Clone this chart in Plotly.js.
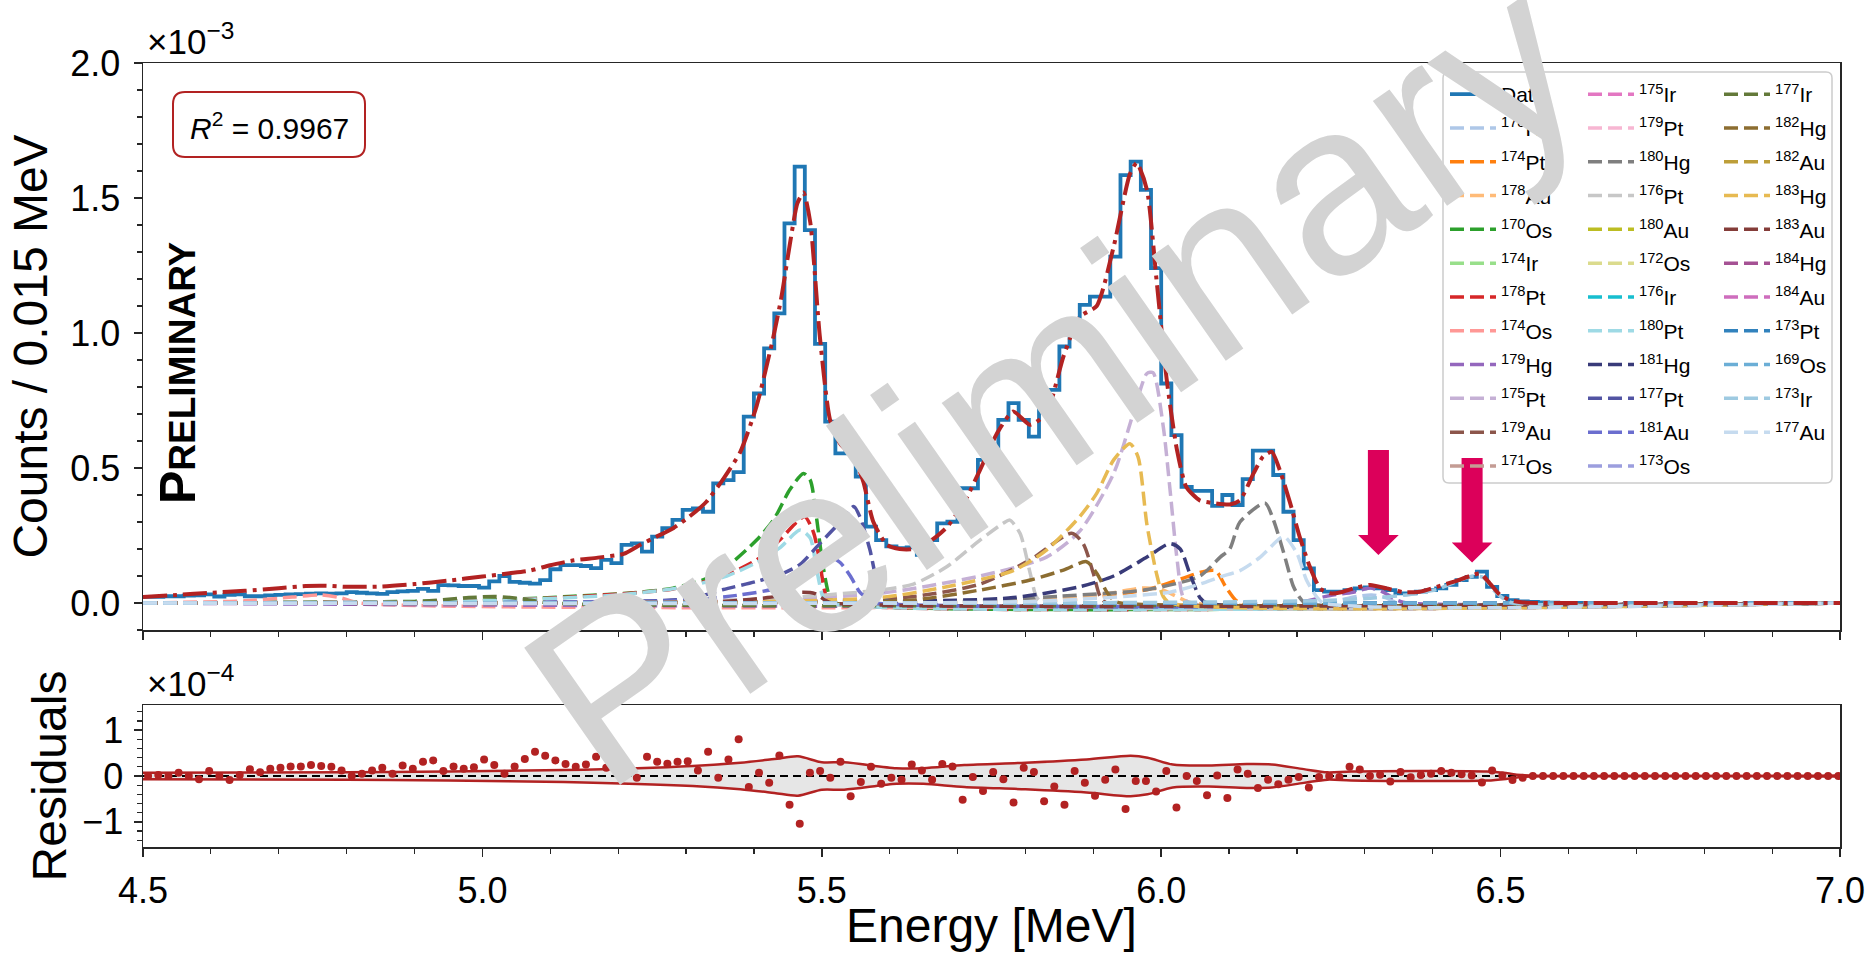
<!DOCTYPE html>
<html>
<head>
<meta charset="utf-8">
<script src="https://cdn.plot.ly/plotly-3.0.1.min.js"></script>
<style>
  html, body { margin: 0; padding: 0; background: #ffffff; }
  #chart { width: 1872px; height: 961px; }
</style>
</head>
<body>
<div id="chart"></div>
<script>
// ---------------- Measured spectrum (units of 1e-3 counts per bin) ----------------
const binStart = 4.5;
const binWidth = 0.015;
const counts = [
  0.023, 0.023, 0.025, 0.025, 0.027, 0.028, 0.032, 0.024, 0.030, 0.032,
  0.025, 0.025, 0.028, 0.030, 0.032, 0.033, 0.035, 0.036, 0.035, 0.036,
  0.040, 0.038, 0.036, 0.034, 0.040, 0.043, 0.045, 0.052, 0.045, 0.066,
  0.065, 0.063, 0.063, 0.057, 0.080, 0.100, 0.078, 0.075, 0.072, 0.085,
  0.125, 0.140, 0.140, 0.137, 0.129, 0.160, 0.148, 0.215, 0.221, 0.190,
  0.246, 0.277, 0.308, 0.345, 0.350, 0.338, 0.443, 0.455, 0.485, 0.690,
  0.776, 0.943, 1.073, 1.406, 1.616, 1.381, 0.960, 0.672, 0.554, 0.590,
  0.468, 0.283, 0.233, 0.210, 0.203, 0.206, 0.178, 0.233, 0.295, 0.301,
  0.425, 0.425, 0.530, 0.567, 0.678, 0.740, 0.678, 0.616, 0.721, 0.789,
  0.950, 1.017, 1.104, 1.135, 1.135, 1.283, 1.585, 1.635, 1.530, 1.240,
  0.813, 0.622, 0.430, 0.415, 0.415, 0.360, 0.400, 0.363, 0.459, 0.564,
  0.564, 0.474, 0.338, 0.233, 0.128, 0.048, 0.042, 0.042, 0.048, 0.054,
  0.058, 0.054, 0.048, 0.036, 0.036, 0.042, 0.048, 0.054, 0.067, 0.085,
  0.097, 0.116, 0.060, 0.026, 0.011, 0.006, 0.004, 0.002, 0.001, 0.000,
  0.000, 0.000
];

// ---------------- Total fit (units of 1e-3) ----------------
const fitE = [
  4.500, 4.550, 4.600, 4.650, 4.700, 4.740, 4.770, 4.800, 4.850, 4.900,
  4.950, 5.000, 5.040, 5.070, 5.100, 5.135, 5.170, 5.208, 5.232, 5.256,
  5.281, 5.305, 5.330, 5.355, 5.380, 5.404, 5.429, 5.441, 5.453, 5.464,
  5.473, 5.483, 5.497, 5.512, 5.527, 5.547, 5.561, 5.576, 5.596, 5.615,
  5.635, 5.660, 5.684, 5.709, 5.733, 5.758, 5.782, 5.807, 5.831, 5.856,
  5.880, 5.905, 5.930, 5.954, 5.964, 5.979, 5.993, 6.008, 6.023, 6.037,
  6.057, 6.077, 6.101, 6.116, 6.136, 6.150, 6.163, 6.175, 6.190, 6.204,
  6.219, 6.234, 6.249, 6.265, 6.283, 6.308, 6.332, 6.357, 6.381, 6.406,
  6.430, 6.455, 6.470, 6.484, 6.499, 6.514, 6.530, 6.560, 6.600, 7.000
];
const fitV = [
  0.022, 0.030, 0.038, 0.045, 0.055, 0.063, 0.064, 0.060, 0.061, 0.070,
  0.083, 0.098, 0.110, 0.120, 0.140, 0.158, 0.168, 0.182, 0.215, 0.245,
  0.277, 0.320, 0.375, 0.460, 0.560, 0.730, 0.990, 1.140, 1.330, 1.480,
  1.520, 1.410, 0.990, 0.680, 0.590, 0.540, 0.450, 0.300, 0.215, 0.200,
  0.200, 0.230, 0.280, 0.369, 0.492, 0.628, 0.709, 0.660, 0.703, 0.913,
  1.060, 1.100, 1.320, 1.590, 1.630, 1.530, 1.200, 0.830, 0.570, 0.430,
  0.380, 0.370, 0.365, 0.380, 0.480, 0.542, 0.560, 0.490, 0.370, 0.245,
  0.134, 0.054, 0.036, 0.040, 0.054, 0.067, 0.054, 0.040, 0.042, 0.060,
  0.078, 0.100, 0.109, 0.073, 0.030, 0.011, 0.003, 0.000, 0.000, 0.000
];

// ---------------- Fit components (units of 1e-3) ----------------
const flatE = [4.5, 7.0];
const flatV = [0, 0];

const os170E = [4.5, 4.9, 5.0, 5.085, 5.134, 5.208, 5.281, 5.33, 5.36, 5.404, 5.429, 5.453, 5.473, 5.483, 5.492, 5.502, 5.512, 5.52, 7.0];
const os170V = [0, 0.006, 0.01, 0.018, 0.025, 0.035, 0.055, 0.09, 0.134, 0.233, 0.308, 0.42, 0.48, 0.455, 0.32, 0.134, 0.02, 0, 0];

const pt178E = [4.5, 5.0, 5.15, 5.281, 5.355, 5.404, 5.438, 5.463, 5.475, 5.488, 5.495, 5.507, 5.515, 7.0];
const pt178V = [0, 0.008, 0.025, 0.052, 0.1, 0.16, 0.233, 0.3, 0.32, 0.26, 0.18, 0.02, 0, 0];

const pt180E = [4.5, 5.0, 5.2, 5.3, 5.36, 5.404, 5.438, 5.468, 5.483, 5.492, 5.502, 5.51, 7.0];
const pt180V = [0, 0.008, 0.03, 0.06, 0.1, 0.15, 0.204, 0.27, 0.24, 0.13, 0.02, 0, 0];

const pt177E = [4.5, 5.2, 5.306, 5.355, 5.404, 5.443, 5.468, 5.497, 5.527, 5.547, 5.556, 5.571, 5.581, 5.596, 5.605, 7.0];
const pt177V = [0, 0.005, 0.017, 0.05, 0.08, 0.11, 0.143, 0.22, 0.3, 0.357, 0.32, 0.196, 0.085, 0.011, 0, 0];

const au181E = [4.5, 5.3, 5.38, 5.429, 5.478, 5.497, 5.512, 5.527, 5.542, 5.556, 5.571, 5.58, 7.0];
const au181V = [0, 0.01, 0.03, 0.052, 0.1, 0.15, 0.17, 0.15, 0.1, 0.04, 0.01, 0, 0];

const au183E = [4.5, 5.35, 5.42, 5.47, 5.49, 5.505, 5.515, 7.0];
const au183V = [0, 0.005, 0.02, 0.04, 0.035, 0.01, 0, 0];

const pt176E = [4.5, 5.3, 5.45, 5.586, 5.635, 5.684, 5.733, 5.767, 5.777, 5.792, 5.807, 5.816, 5.826, 7.0];
const pt176V = [0, 0.005, 0.02, 0.048, 0.07, 0.134, 0.233, 0.295, 0.307, 0.258, 0.11, 0.024, 0, 0];

const au179E = [4.5, 5.5, 5.635, 5.733, 5.807, 5.868, 5.885, 5.9, 5.91, 5.92, 7.0];
const au179V = [0, 0.008, 0.024, 0.07, 0.16, 0.258, 0.22, 0.11, 0.024, 0, 0];

const hg182E = [4.5, 5.5, 5.635, 5.733, 5.807, 5.856, 5.89, 5.905, 5.92, 5.93, 5.94, 7.0];
const hg182V = [0, 0.004, 0.011, 0.048, 0.085, 0.122, 0.153, 0.11, 0.04, 0.01, 0, 0];

const hg183E = [4.5, 5.4, 5.586, 5.684, 5.782, 5.831, 5.88, 5.905, 5.93, 5.954, 5.966, 5.979, 5.993, 6.003, 6.013, 7.0];
const hg183V = [0, 0.005, 0.02, 0.06, 0.12, 0.196, 0.32, 0.406, 0.53, 0.59, 0.54, 0.29, 0.11, 0.024, 0, 0];

const pt175E = [4.5, 5.4, 5.586, 5.733, 5.831, 5.88, 5.93, 5.959, 5.979, 5.988, 6.003, 6.013, 6.023, 6.032, 6.042, 7.0];
const pt175V = [0, 0.012, 0.036, 0.1, 0.17, 0.266, 0.48, 0.703, 0.85, 0.853, 0.654, 0.42, 0.17, 0.024, 0, 0];

const hg181E = [4.5, 5.6, 5.782, 5.88, 5.93, 5.979, 6.013, 6.028, 6.042, 6.057, 6.067, 7.0];
const hg181V = [0, 0.005, 0.02, 0.06, 0.1, 0.17, 0.22, 0.2, 0.11, 0.02, 0, 0];

const au178E = [4.5, 5.8, 5.9, 5.97, 6.0, 6.03, 6.045, 7.0];
const au178V = [0, 0.01, 0.025, 0.055, 0.05, 0.015, 0, 0];

const pt174E = [4.5, 5.8, 5.9, 5.98, 6.03, 6.06, 6.08, 6.095, 6.11, 6.12, 7.0];
const pt174V = [0, 0.005, 0.02, 0.05, 0.09, 0.115, 0.12, 0.06, 0.01, 0, 0];

const hg180E = [4.5, 5.7, 5.85, 5.98, 6.057, 6.087, 6.101, 6.116, 6.153, 6.165, 6.18, 6.195, 6.205, 6.212, 7.0];
const hg180V = [0, 0.005, 0.025, 0.05, 0.1, 0.17, 0.2, 0.3, 0.37, 0.31, 0.19, 0.06, 0.017, 0, 0];

const au177E = [4.5, 5.8, 5.95, 6.013, 6.057, 6.087, 6.116, 6.146, 6.175, 6.182, 6.2, 6.214, 6.229, 6.239, 7.0];
const au177V = [0, 0.005, 0.025, 0.04, 0.07, 0.097, 0.12, 0.17, 0.24, 0.245, 0.184, 0.085, 0.023, 0, 0];

const hg179E = [4.5, 6.2, 6.249, 6.283, 6.308, 6.327, 6.347, 6.362, 7.0];
const hg179V = [0, 0.003, 0.028, 0.04, 0.056, 0.04, 0.011, 0, 0];

const ir173E = [4.5, 6.25, 6.362, 6.406, 6.43, 6.46, 6.475, 6.489, 6.504, 6.519, 7.0];
const ir173V = [0, 0.01, 0.03, 0.05, 0.074, 0.1, 0.094, 0.05, 0.017, 0, 0];

const hg178E = [4.5, 6.22, 6.26, 6.29, 6.31, 6.33, 6.35, 7.0];
const hg178V = [0, 0, 0.01, 0.025, 0.03, 0.02, 0, 0];

const os174E = [4.5, 4.65, 4.72, 4.76, 4.79, 4.82, 7.0];
const os174V = [0, 0.008, 0.022, 0.03, 0.02, 0, 0];

const ir177E = [4.5, 4.9, 4.98, 5.02, 5.06, 5.1, 7.0];
const ir177V = [0, 0.005, 0.02, 0.024, 0.015, 0, 0];

// Legend labels, colours and legend column, in legend order
const isoLabels = [
  '<sup>178</sup>Hg', '<sup>174</sup>Pt', '<sup>178</sup>Au', '<sup>170</sup>Os', '<sup>174</sup>Ir', '<sup>178</sup>Pt',
  '<sup>174</sup>Os', '<sup>179</sup>Hg', '<sup>175</sup>Pt', '<sup>179</sup>Au', '<sup>171</sup>Os',
  '<sup>175</sup>Ir', '<sup>179</sup>Pt', '<sup>180</sup>Hg', '<sup>176</sup>Pt', '<sup>180</sup>Au', '<sup>172</sup>Os',
  '<sup>176</sup>Ir', '<sup>180</sup>Pt', '<sup>181</sup>Hg', '<sup>177</sup>Pt', '<sup>181</sup>Au', '<sup>173</sup>Os',
  '<sup>177</sup>Ir', '<sup>182</sup>Hg', '<sup>182</sup>Au', '<sup>183</sup>Hg', '<sup>183</sup>Au', '<sup>184</sup>Hg',
  '<sup>184</sup>Au', '<sup>173</sup>Pt', '<sup>169</sup>Os', '<sup>173</sup>Ir', '<sup>177</sup>Au'
];
const isoColors = [
  '#aec7e8', '#ff7f0e', '#ffbb78', '#2ca02c', '#98df8a', '#d62728',
  '#ff9896', '#9467bd', '#c5b0d5', '#8c564b', '#c49c94',
  '#e377c2', '#f7b6d2', '#7f7f7f', '#c7c7c7', '#bcbd22', '#dbdb8d',
  '#17becf', '#9edae5', '#393b79', '#5254a3', '#6b6ecf', '#9c9ede',
  '#637939', '#8c6d31', '#bd9e39', '#e7ba52', '#843c39', '#a55194',
  '#ce6dbd', '#3182bd', '#6baed6', '#9ecae1', '#c6dbef'
];
const isoLegend = [
  'legend', 'legend', 'legend', 'legend', 'legend', 'legend', 'legend', 'legend', 'legend', 'legend', 'legend',
  'legend2', 'legend2', 'legend2', 'legend2', 'legend2', 'legend2', 'legend2', 'legend2', 'legend2', 'legend2', 'legend2', 'legend2',
  'legend3', 'legend3', 'legend3', 'legend3', 'legend3', 'legend3', 'legend3', 'legend3', 'legend3', 'legend3', 'legend3'
];
const isoCurves = [
  [hg178E, hg178V], [pt174E, pt174V], [au178E, au178V], [os170E, os170V], [flatE, flatV], [pt178E, pt178V],
  [os174E, os174V], [hg179E, hg179V], [pt175E, pt175V], [au179E, au179V], [flatE, flatV],
  [flatE, flatV], [flatE, flatV], [hg180E, hg180V], [pt176E, pt176V], [flatE, flatV], [flatE, flatV],
  [flatE, flatV], [pt180E, pt180V], [hg181E, hg181V], [pt177E, pt177V], [au181E, au181V], [flatE, flatV],
  [ir177E, ir177V], [hg182E, hg182V], [flatE, flatV], [hg183E, hg183V], [au183E, au183V], [flatE, flatV],
  [flatE, flatV], [flatE, flatV], [flatE, flatV], [ir173E, ir173V], [au177E, au177V]
];

// ---------------- Residuals (fit - data, units of 1e-4), one per bin ----------------
const resid = [
  0.00, 0.02, 0.00, 0.07, 0.00, -0.07, 0.11, 0.00, -0.09, 0.02,
  0.15, 0.08, 0.16, 0.18, 0.21, 0.21, 0.24, 0.22, 0.20, 0.12,
  0.00, 0.05, 0.12, 0.18, 0.05, 0.23, 0.16, 0.31, 0.34, 0.11,
  0.21, 0.16, 0.19, 0.36, 0.24, 0.05, 0.21, 0.37, 0.53, 0.44,
  0.34, 0.26, 0.20, 0.25, 0.42, 0.18, 0.37, 0.26, -0.04, 0.42,
  0.31, 0.27, 0.31, 0.32, 0.12, 0.53, -0.04, 0.36, 0.80, -0.24,
  0.07, -0.15, 0.45, -0.63, -1.04, 0.07, 0.11, -0.04, 0.31, -0.44,
  -0.13, 0.20, -0.17, -0.04, -0.08, 0.25, 0.12, -0.08, 0.26, 0.21,
  -0.52, -0.02, -0.33, 0.09, -0.07, -0.58, 0.18, 0.09, -0.55, -0.23,
  -0.63, 0.11, -0.15, -0.43, -0.08, 0.14, -0.72, -0.11, -0.11, -0.34,
  0.11, -0.69, 0.00, -0.11, -0.42, 0.01, -0.48, 0.14, 0.05, -0.26,
  -0.08, -0.18, -0.08, -0.02, -0.25, -0.02, 0.00, -0.02, 0.20, 0.14,
  0.00, 0.03, -0.12, 0.09, -0.03, 0.02, 0.05, 0.11, 0.07, 0.04,
  0.01, -0.14, 0.12, 0.01, -0.09, -0.04, 0.00, 0.00, 0.00, 0.00,
  0.00, 0.00, 0.00, 0.00, 0.00, 0.00, 0.00, 0.00, 0.00, 0.00,
  0.00, 0.00, 0.00, 0.00, 0.00, 0.00, 0.00, 0.00, 0.00, 0.00,
  0.00, 0.00, 0.00, 0.00, 0.00, 0.00, 0.00
];

// Fit uncertainty band half-width (units of 1e-4)
const bandE = [4.5, 4.8, 4.95, 5.12, 5.31, 5.38, 5.43, 5.465, 5.5, 5.533, 5.61, 5.65, 5.71, 5.8, 5.89, 5.955, 5.98, 6.017, 6.07, 6.126, 6.163, 6.21, 6.245, 6.28, 6.48, 6.51, 6.53, 7.0];
const bandHalf = [0.07, 0.08, 0.10, 0.13, 0.22, 0.29, 0.37, 0.43, 0.30, 0.30, 0.17, 0.17, 0.24, 0.29, 0.36, 0.44, 0.40, 0.25, 0.23, 0.26, 0.25, 0.15, 0.08, 0.10, 0.10, 0.06, 0.02, 0.01];

// Marker arrows (energy in MeV, heights in 1e-3)
const arrowE = [6.32, 6.458];
const arrowTop = [0.567, 0.537];
const arrowHeadBase = [0.252, 0.224];
const arrowTip = [0.178, 0.150];

// ---------------- Geometry / styles ----------------
const FONT = 'Liberation Sans, Arial, Helvetica, sans-serif';
const PL = 143, PT = 63, PW = 1697, PH = 784;   // plot area in px
const topDomain = [(847 - 630) / PH, 1];
const botDomain = [0, (847 - 705) / PH];
const AX = '#262626';
const DASH = '14px,6px';

// step histogram from bin edges
const edges = counts.map((_, i) => binStart + i * binWidth);
edges.push(binStart + counts.length * binWidth);
const stepY = counts.concat([counts[counts.length - 1]]);
const centers = resid.map((_, i) => binStart + (i + 0.5) * binWidth);

const traces = [];
traces.push({
  x: edges, y: stepY, xaxis: 'x2', yaxis: 'y', type: 'scatter', mode: 'lines',
  line: {shape: 'hv', color: '#1f77b4', width: 3.8},
  name: 'Data', legend: 'legend', legendgroup: 'g0', hoverinfo: 'skip'
});
isoLabels.forEach((lab, i) => {
  const c = isoCurves[i];
  traces.push({
    x: c[0], y: c[1], xaxis: 'x2', yaxis: 'y', type: 'scatter', mode: 'lines',
    line: {color: isoColors[i], width: 3.5, dash: DASH, shape: c[0].length > 2 ? 'spline' : 'linear', smoothing: 0.7},
    name: lab, legend: isoLegend[i], legendgroup: 'g' + (i + 1), hoverinfo: 'skip'
  });
});
traces.push({
  x: fitE, y: fitV, xaxis: 'x2', yaxis: 'y', type: 'scatter', mode: 'lines',
  line: {color: '#b22222', width: 4, dash: '24px,6px,4px,6px', shape: 'spline', smoothing: 0.6},
  showlegend: false, hoverinfo: 'skip'
});

// residual panel
traces.push({
  x: bandE, y: bandHalf.map(v => -v), xaxis: 'x', yaxis: 'y2', type: 'scatter', mode: 'lines',
  line: {width: 0, shape: 'spline', smoothing: 0.8}, showlegend: false, hoverinfo: 'skip'
});
traces.push({
  x: bandE, y: bandHalf, xaxis: 'x', yaxis: 'y2', type: 'scatter', mode: 'lines', fill: 'tonexty',
  fillcolor: 'rgba(200,200,200,0.45)', line: {width: 0, shape: 'spline', smoothing: 0.8},
  showlegend: false, hoverinfo: 'skip'
});
traces.push({
  x: [4.5, 7.0], y: [0, 0], xaxis: 'x', yaxis: 'y2', type: 'scatter', mode: 'lines',
  line: {color: '#000000', width: 2, dash: '8px,5px'}, showlegend: false, hoverinfo: 'skip'
});
traces.push({
  x: bandE, y: bandHalf.map(v => -v), xaxis: 'x', yaxis: 'y2', type: 'scatter', mode: 'lines',
  line: {color: '#b22222', width: 2.5, shape: 'spline', smoothing: 0.8}, showlegend: false, hoverinfo: 'skip'
});
traces.push({
  x: bandE, y: bandHalf, xaxis: 'x', yaxis: 'y2', type: 'scatter', mode: 'lines',
  line: {color: '#b22222', width: 2.5, shape: 'spline', smoothing: 0.8}, showlegend: false, hoverinfo: 'skip'
});
traces.push({
  x: centers, y: resid, xaxis: 'x', yaxis: 'y2', type: 'scatter', mode: 'markers',
  marker: {color: '#b22222', size: 8}, showlegend: false, hoverinfo: 'skip'
});

// helpers for paper-space shapes given pixel boxes
const PX = p => (p - PL) / PW;
const PY = p => (PT + PH - p) / PH;
function roundRect(x0, y0, x1, y1, r) {
  return `M${PX(x0 + r)},${PY(y0)} L${PX(x1 - r)},${PY(y0)} Q${PX(x1)},${PY(y0)} ${PX(x1)},${PY(y0 + r)} ` +
         `L${PX(x1)},${PY(y1 - r)} Q${PX(x1)},${PY(y1)} ${PX(x1 - r)},${PY(y1)} ` +
         `L${PX(x0 + r)},${PY(y1)} Q${PX(x0)},${PY(y1)} ${PX(x0)},${PY(y1 - r)} ` +
         `L${PX(x0)},${PY(y0 + r)} Q${PX(x0)},${PY(y0)} ${PX(x0 + r)},${PY(y0)} Z`;
}
const shaftHalf = 0.0155, headHalf = 0.030;
function arrowPath(i) {
  const x = arrowE[i];
  return `M${x - shaftHalf},${arrowTop[i]} L${x + shaftHalf},${arrowTop[i]} L${x + shaftHalf},${arrowHeadBase[i]} ` +
         `L${x + headHalf},${arrowHeadBase[i]} L${x},${arrowTip[i]} L${x - headHalf},${arrowHeadBase[i]} ` +
         `L${x - shaftHalf},${arrowHeadBase[i]} Z`;
}

const shapes = [
  {type: 'path', xref: 'paper', yref: 'paper', layer: 'above', path: roundRect(1443, 72, 1832, 483, 6),
   fillcolor: 'rgba(255,255,255,0.85)', line: {color: '#cccccc', width: 1.5}},
  {type: 'path', xref: 'paper', yref: 'paper', layer: 'above', path: roundRect(173, 92, 365, 157, 12),
   fillcolor: 'rgba(255,255,255,0.9)', line: {color: '#b22222', width: 2}},
  {type: 'path', xref: 'x2', yref: 'y', layer: 'above', path: arrowPath(0), fillcolor: '#dc005a', line: {width: 0}},
  {type: 'path', xref: 'x2', yref: 'y', layer: 'above', path: arrowPath(1), fillcolor: '#dc005a', line: {width: 0}}
];

const annotations = [
  {xref: 'paper', yref: 'paper', x: PX(269), y: PY(126), xanchor: 'center', yanchor: 'middle', showarrow: false,
   text: '<i>R</i><sup>2</sup> = 0.9967', font: {family: FONT, size: 30, color: '#000'}},
  {xref: 'paper', yref: 'paper', x: PX(145), y: 1, xanchor: 'left', yanchor: 'bottom', showarrow: false,
   text: '×10<sup>−3</sup>', font: {family: FONT, size: 35, color: '#000'}},
  {xref: 'paper', yref: 'paper', x: PX(145), y: botDomain[1], xanchor: 'left', yanchor: 'bottom', showarrow: false,
   text: '×10<sup>−4</sup>', font: {family: FONT, size: 35, color: '#000'}},
  {xref: 'paper', yref: 'paper', x: PX(178), y: PY(373), xanchor: 'center', yanchor: 'middle', showarrow: false, textangle: -90,
   text: '<b>P<span style="font-size:37px">RELIMINARY</span></b>', font: {family: FONT, size: 50, color: '#000'}},
  {xref: 'paper', yref: 'paper', x: 0.5, y: PY(925), xanchor: 'center', yanchor: 'middle', showarrow: false,
   text: 'Energy [MeV]', font: {family: FONT, size: 48, color: '#000'}},
  {xref: 'paper', yref: 'paper', x: PX(1053), y: PY(378), xanchor: 'center', yanchor: 'middle', showarrow: false, textangle: -35,
   text: 'Preliminary', font: {family: FONT, size: 243, color: '#d3d3d3'}}
];

const tickCommon = {
  ticks: 'outside', ticklen: 8, tickwidth: 1.5, tickcolor: AX,
  showline: true, linecolor: AX, linewidth: 1.5, mirror: true,
  showgrid: false, zeroline: false,
  tickfont: {family: FONT, size: 36, color: '#000'}
};
const minorX = {dtick: 0.1, tick0: 4.5, ticks: 'outside', ticklen: 5, tickwidth: 1.2, tickcolor: AX, showgrid: false};

const legendCommon = {
  xanchor: 'left', yanchor: 'top', bgcolor: 'rgba(0,0,0,0)', borderwidth: 0,
  font: {family: FONT, size: 21, color: '#000'}, tracegroupgap: 3.5, itemwidth: 46, traceorder: 'grouped'
};

const layout = {
  width: 1872, height: 961,
  margin: {l: PL, r: 1872 - PL - PW, t: PT, b: 961 - PT - PH},
  paper_bgcolor: '#ffffff', plot_bgcolor: '#ffffff',
  showlegend: true,
  xaxis: Object.assign({}, tickCommon, {
    domain: [0, 1], anchor: 'y2', range: [4.5, 7.0], tick0: 4.5, dtick: 0.5, tickformat: '.1f',
    minor: minorX, ticklabelstandoff: 3
  }),
  xaxis2: Object.assign({}, tickCommon, {
    domain: [0, 1], anchor: 'y', matches: 'x', range: [4.5, 7.0], tick0: 4.5, dtick: 0.5,
    showticklabels: false, minor: minorX
  }),
  yaxis: Object.assign({}, tickCommon, {
    domain: topDomain, anchor: 'x2', range: [-0.1, 2.0], tick0: 0, dtick: 0.5, tickformat: '.1f',
    minor: {dtick: 0.1, tick0: 0, ticks: 'outside', ticklen: 5, tickwidth: 1.2, tickcolor: AX, showgrid: false},
    ticklabelstandoff: 6,
    title: {text: 'Counts / 0.015 MeV', font: {family: FONT, size: 48, color: '#000'}, standoff: 7}
  }),
  yaxis2: Object.assign({}, tickCommon, {
    domain: botDomain, anchor: 'x', range: [-1.55, 1.55], tickvals: [-1, 0, 1],
    minor: {dtick: 0.2, tick0: 0, ticks: 'outside', ticklen: 5, tickwidth: 1.2, tickcolor: AX, showgrid: false},
    ticklabelstandoff: 3,
    title: {text: 'Residuals', font: {family: FONT, size: 48, color: '#000'}, standoff: 0}
  }),
  legend: Object.assign({}, legendCommon, {x: PX(1445), y: PY(74)}),
  legend2: Object.assign({}, legendCommon, {x: PX(1583), y: PY(74)}),
  legend3: Object.assign({}, legendCommon, {x: PX(1719), y: PY(74)}),
  shapes: shapes,
  annotations: annotations
};

Plotly.newPlot('chart', traces, layout, {displayModeBar: false, staticPlot: true});
</script>
</body>
</html>
